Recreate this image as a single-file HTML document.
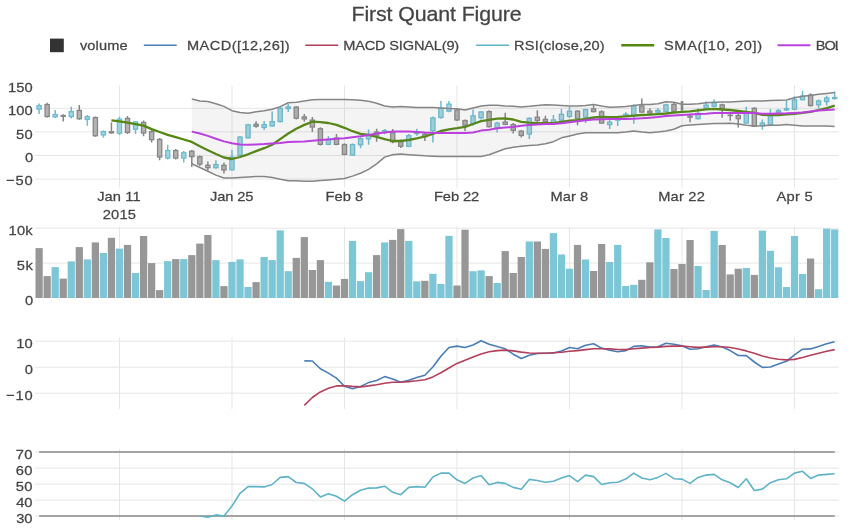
<!DOCTYPE html>
<html><head><meta charset="utf-8"><style>
html,body{margin:0;padding:0;background:#fff;overflow:hidden}
svg{display:block;filter:blur(0.35px)}
text{font-family:"Liberation Sans",sans-serif;fill:#444444;stroke:#444;stroke-width:0.25px}
</style></head><body>
<svg width="852" height="528" viewBox="0 0 852 528">
<defs><clipPath id="legclip"><rect x="0" y="0" width="837.9" height="528"/></clipPath></defs>
<rect x="0" y="0" width="852" height="528" fill="#fff"/>
<path d="M119.48 85.2 V187.5 M231.98 85.2 V187.5 M344.49 85.2 V187.5 M456.99 85.2 V187.5 M569.49 85.2 V187.5 M682 85.2 V187.5 M794.5 85.2 V187.5 M35.1 108.3 H838.7 M35.1 131.9 H838.7 M35.1 155.5 H838.7 M35.1 179.1 H838.7 M119.48 226.5 V298 M231.98 226.5 V298 M344.49 226.5 V298 M456.99 226.5 V298 M569.49 226.5 V298 M682 226.5 V298 M794.5 226.5 V298 M35.1 228.2 H838.7 M35.1 263.1 H838.7 M119.48 337.5 V409 M231.98 337.5 V409 M344.49 337.5 V409 M456.99 337.5 V409 M569.49 337.5 V409 M682 337.5 V409 M794.5 337.5 V409 M35.1 341.2 H838.7 M35.1 367.2 H838.7 M35.1 393.2 H838.7 M119.48 449 V520 M231.98 449 V520 M344.49 449 V520 M456.99 449 V520 M569.49 449 V520 M682 449 V520 M794.5 449 V520 M35.1 452 H838.7 M35.1 468.2 H838.7 M35.1 484.2 H838.7 M35.1 500.2 H838.7 M35.1 516 H838.7" stroke="#e6e6e6" stroke-width="1" fill="none"/>
<rect x="35.5" y="248.1" width="7.24" height="49.9" fill="#979797"/>
<rect x="43.54" y="276.1" width="7.24" height="21.9" fill="#979797"/>
<rect x="51.57" y="267.1" width="7.24" height="30.9" fill="#7cc6d6"/>
<rect x="59.61" y="278.6" width="7.24" height="19.4" fill="#979797"/>
<rect x="67.64" y="261.4" width="7.24" height="36.6" fill="#7cc6d6"/>
<rect x="75.68" y="247.1" width="7.24" height="50.9" fill="#979797"/>
<rect x="83.72" y="259.4" width="7.24" height="38.6" fill="#7cc6d6"/>
<rect x="91.75" y="242.4" width="7.24" height="55.6" fill="#979797"/>
<rect x="99.79" y="253" width="7.24" height="45" fill="#7cc6d6"/>
<rect x="107.82" y="237.8" width="7.24" height="60.2" fill="#979797"/>
<rect x="115.86" y="248.6" width="7.24" height="49.4" fill="#7cc6d6"/>
<rect x="123.9" y="244.9" width="7.24" height="53.1" fill="#979797"/>
<rect x="131.93" y="273" width="7.24" height="25" fill="#7cc6d6"/>
<rect x="139.97" y="236" width="7.24" height="62" fill="#979797"/>
<rect x="148" y="263.1" width="7.24" height="34.9" fill="#979797"/>
<rect x="156.04" y="290.1" width="7.24" height="7.9" fill="#979797"/>
<rect x="164.08" y="261.1" width="7.24" height="36.9" fill="#7cc6d6"/>
<rect x="172.11" y="259.1" width="7.24" height="38.9" fill="#979797"/>
<rect x="180.15" y="259.1" width="7.24" height="38.9" fill="#7cc6d6"/>
<rect x="188.18" y="255.1" width="7.24" height="42.9" fill="#979797"/>
<rect x="196.22" y="243.6" width="7.24" height="54.4" fill="#979797"/>
<rect x="204.26" y="235" width="7.24" height="63" fill="#979797"/>
<rect x="212.29" y="260.1" width="7.24" height="37.9" fill="#7cc6d6"/>
<rect x="220.33" y="286.1" width="7.24" height="11.9" fill="#979797"/>
<rect x="228.36" y="261.9" width="7.24" height="36.1" fill="#7cc6d6"/>
<rect x="236.4" y="259.4" width="7.24" height="38.6" fill="#7cc6d6"/>
<rect x="244.44" y="287" width="7.24" height="11" fill="#7cc6d6"/>
<rect x="252.47" y="282.1" width="7.24" height="15.9" fill="#979797"/>
<rect x="260.51" y="257" width="7.24" height="41" fill="#7cc6d6"/>
<rect x="268.54" y="260.1" width="7.24" height="37.9" fill="#7cc6d6"/>
<rect x="276.58" y="230.4" width="7.24" height="67.6" fill="#7cc6d6"/>
<rect x="284.62" y="271.2" width="7.24" height="26.8" fill="#7cc6d6"/>
<rect x="292.65" y="257.9" width="7.24" height="40.1" fill="#979797"/>
<rect x="300.69" y="237.1" width="7.24" height="60.9" fill="#979797"/>
<rect x="308.72" y="270" width="7.24" height="28" fill="#979797"/>
<rect x="316.76" y="260.1" width="7.24" height="37.9" fill="#979797"/>
<rect x="324.8" y="281.8" width="7.24" height="16.2" fill="#7cc6d6"/>
<rect x="332.83" y="285.5" width="7.24" height="12.5" fill="#979797"/>
<rect x="340.87" y="278.9" width="7.24" height="19.1" fill="#979797"/>
<rect x="348.9" y="240.9" width="7.24" height="57.1" fill="#7cc6d6"/>
<rect x="356.94" y="281.1" width="7.24" height="16.9" fill="#7cc6d6"/>
<rect x="364.98" y="272.2" width="7.24" height="25.8" fill="#7cc6d6"/>
<rect x="373.01" y="255.1" width="7.24" height="42.9" fill="#979797"/>
<rect x="381.05" y="242.4" width="7.24" height="55.6" fill="#7cc6d6"/>
<rect x="389.08" y="239.9" width="7.24" height="58.1" fill="#979797"/>
<rect x="397.12" y="229.1" width="7.24" height="68.9" fill="#979797"/>
<rect x="405.16" y="240.9" width="7.24" height="57.1" fill="#7cc6d6"/>
<rect x="413.19" y="281.4" width="7.24" height="16.6" fill="#7cc6d6"/>
<rect x="421.23" y="280.8" width="7.24" height="17.2" fill="#979797"/>
<rect x="429.26" y="273.8" width="7.24" height="24.2" fill="#7cc6d6"/>
<rect x="437.3" y="284" width="7.24" height="14" fill="#7cc6d6"/>
<rect x="445.34" y="235.9" width="7.24" height="62.1" fill="#7cc6d6"/>
<rect x="453.37" y="285.5" width="7.24" height="12.5" fill="#979797"/>
<rect x="461.41" y="229.7" width="7.24" height="68.3" fill="#979797"/>
<rect x="469.44" y="271.2" width="7.24" height="26.8" fill="#7cc6d6"/>
<rect x="477.48" y="270.4" width="7.24" height="27.6" fill="#7cc6d6"/>
<rect x="485.52" y="276.1" width="7.24" height="21.9" fill="#979797"/>
<rect x="493.55" y="283" width="7.24" height="15" fill="#7cc6d6"/>
<rect x="501.59" y="251.1" width="7.24" height="46.9" fill="#979797"/>
<rect x="509.62" y="273" width="7.24" height="25" fill="#979797"/>
<rect x="517.66" y="257" width="7.24" height="41" fill="#979797"/>
<rect x="525.7" y="241.5" width="7.24" height="56.5" fill="#7cc6d6"/>
<rect x="533.73" y="241.5" width="7.24" height="56.5" fill="#979797"/>
<rect x="541.77" y="248.9" width="7.24" height="49.1" fill="#979797"/>
<rect x="549.8" y="233.1" width="7.24" height="64.9" fill="#7cc6d6"/>
<rect x="557.84" y="254.5" width="7.24" height="43.5" fill="#7cc6d6"/>
<rect x="565.88" y="268.7" width="7.24" height="29.3" fill="#7cc6d6"/>
<rect x="573.91" y="244.9" width="7.24" height="53.1" fill="#979797"/>
<rect x="581.95" y="259.5" width="7.24" height="38.5" fill="#7cc6d6"/>
<rect x="589.98" y="271" width="7.24" height="27" fill="#979797"/>
<rect x="598.02" y="244" width="7.24" height="54" fill="#979797"/>
<rect x="606.06" y="262" width="7.24" height="36" fill="#7cc6d6"/>
<rect x="614.09" y="244.9" width="7.24" height="53.1" fill="#7cc6d6"/>
<rect x="622.13" y="286" width="7.24" height="12" fill="#7cc6d6"/>
<rect x="630.16" y="284.8" width="7.24" height="13.2" fill="#7cc6d6"/>
<rect x="638.2" y="279.8" width="7.24" height="18.2" fill="#979797"/>
<rect x="646.24" y="262.3" width="7.24" height="35.7" fill="#979797"/>
<rect x="654.27" y="229.4" width="7.24" height="68.6" fill="#7cc6d6"/>
<rect x="662.31" y="238" width="7.24" height="60" fill="#7cc6d6"/>
<rect x="670.34" y="269" width="7.24" height="29" fill="#979797"/>
<rect x="678.38" y="264" width="7.24" height="34" fill="#979797"/>
<rect x="686.42" y="240" width="7.24" height="58" fill="#979797"/>
<rect x="694.45" y="266" width="7.24" height="32" fill="#7cc6d6"/>
<rect x="702.49" y="290" width="7.24" height="8" fill="#7cc6d6"/>
<rect x="710.52" y="230.9" width="7.24" height="67.1" fill="#7cc6d6"/>
<rect x="718.56" y="245" width="7.24" height="53" fill="#979797"/>
<rect x="726.6" y="274.4" width="7.24" height="23.6" fill="#979797"/>
<rect x="734.63" y="268.7" width="7.24" height="29.3" fill="#979797"/>
<rect x="742.67" y="268" width="7.24" height="30" fill="#7cc6d6"/>
<rect x="750.7" y="274.9" width="7.24" height="23.1" fill="#979797"/>
<rect x="758.74" y="230.6" width="7.24" height="67.4" fill="#7cc6d6"/>
<rect x="766.78" y="250.8" width="7.24" height="47.2" fill="#7cc6d6"/>
<rect x="774.81" y="267.3" width="7.24" height="30.7" fill="#7cc6d6"/>
<rect x="782.85" y="287" width="7.24" height="11" fill="#7cc6d6"/>
<rect x="790.88" y="236" width="7.24" height="62" fill="#7cc6d6"/>
<rect x="798.92" y="274" width="7.24" height="24" fill="#7cc6d6"/>
<rect x="806.96" y="258.5" width="7.24" height="39.5" fill="#979797"/>
<rect x="814.99" y="289.2" width="7.24" height="8.8" fill="#7cc6d6"/>
<rect x="823.03" y="228.6" width="7.24" height="69.4" fill="#7cc6d6"/>
<rect x="831.06" y="229.4" width="7.24" height="68.6" fill="#7cc6d6"/>
<path d="M39.12 103.6 V105.5 M39.12 109.3 V113.9" stroke="#6cbcd0" stroke-width="1.5"/>
<rect x="37.02" y="105.65" width="4.2" height="3.5" fill="#6cbcd0" fill-opacity="0.62" stroke="#6cbcd0" stroke-width="1.3"/>
<path d="M47.15 102.7 V104.4 M47.15 116.7 V117.5" stroke="#868686" stroke-width="1.5"/>
<rect x="45.05" y="104.55" width="4.2" height="12" fill="#868686" fill-opacity="0.62" stroke="#868686" stroke-width="1.3"/>
<path d="M55.19 110.1 V114.4 M55.19 117 V117.9" stroke="#6cbcd0" stroke-width="1.5"/>
<rect x="53.09" y="114.55" width="4.2" height="2.3" fill="#6cbcd0" fill-opacity="0.62" stroke="#6cbcd0" stroke-width="1.3"/>
<path d="M63.23 114.2 V115.4 M63.23 116.4 V121.6" stroke="#868686" stroke-width="1.5"/>
<rect x="61.13" y="115.55" width="4.2" height="0.7" fill="#868686" fill-opacity="0.62" stroke="#868686" stroke-width="1.3"/>
<path d="M71.26 106.8 V111.5 M71.26 116.7 V118.6" stroke="#6cbcd0" stroke-width="1.5"/>
<rect x="69.16" y="111.65" width="4.2" height="4.9" fill="#6cbcd0" fill-opacity="0.62" stroke="#6cbcd0" stroke-width="1.3"/>
<path d="M79.3 105 V110.3 M79.3 118.9 V119.8" stroke="#868686" stroke-width="1.5"/>
<rect x="77.2" y="110.45" width="4.2" height="8.3" fill="#868686" fill-opacity="0.62" stroke="#868686" stroke-width="1.3"/>
<path d="M87.33 114.9 V116.5 M87.33 119.6 V125.7" stroke="#6cbcd0" stroke-width="1.5"/>
<rect x="85.23" y="116.65" width="4.2" height="2.8" fill="#6cbcd0" fill-opacity="0.62" stroke="#6cbcd0" stroke-width="1.3"/>
<path d="M95.37 116.4 V117.4 M95.37 135.9 V136.7" stroke="#868686" stroke-width="1.5"/>
<rect x="93.27" y="117.55" width="4.2" height="18.2" fill="#868686" fill-opacity="0.62" stroke="#868686" stroke-width="1.3"/>
<path d="M103.41 130.5 V131.4 M103.41 135.1 V137.8" stroke="#6cbcd0" stroke-width="1.5"/>
<rect x="101.31" y="131.55" width="4.2" height="3.4" fill="#6cbcd0" fill-opacity="0.62" stroke="#6cbcd0" stroke-width="1.3"/>
<path d="M111.44 122.5 V131.6 M111.44 133 V133.7" stroke="#868686" stroke-width="1.5"/>
<rect x="109.34" y="131.75" width="4.2" height="1.1" fill="#868686" fill-opacity="0.62" stroke="#868686" stroke-width="1.3"/>
<path d="M119.48 116.8 V119 M119.48 133.3 V134.9" stroke="#6cbcd0" stroke-width="1.5"/>
<rect x="117.38" y="119.15" width="4.2" height="14" fill="#6cbcd0" fill-opacity="0.62" stroke="#6cbcd0" stroke-width="1.3"/>
<path d="M127.51 116 V118.3 M127.51 132.6 V134.1" stroke="#868686" stroke-width="1.5"/>
<rect x="125.41" y="118.45" width="4.2" height="14" fill="#868686" fill-opacity="0.62" stroke="#868686" stroke-width="1.3"/>
<path d="M135.55 121 V121.8 M135.55 129.3 V134.1" stroke="#6cbcd0" stroke-width="1.5"/>
<rect x="133.45" y="121.95" width="4.2" height="7.2" fill="#6cbcd0" fill-opacity="0.62" stroke="#6cbcd0" stroke-width="1.3"/>
<path d="M143.59 120.6 V122.3 M143.59 133.1 V136.3" stroke="#868686" stroke-width="1.5"/>
<rect x="141.49" y="122.45" width="4.2" height="10.5" fill="#868686" fill-opacity="0.62" stroke="#868686" stroke-width="1.3"/>
<path d="M151.62 128.8 V131.5 M151.62 139.8 V142.5" stroke="#868686" stroke-width="1.5"/>
<rect x="149.52" y="131.65" width="4.2" height="8" fill="#868686" fill-opacity="0.62" stroke="#868686" stroke-width="1.3"/>
<path d="M159.66 138.1 V139.3 M159.66 157.1 V160.2" stroke="#868686" stroke-width="1.5"/>
<rect x="157.56" y="139.45" width="4.2" height="17.5" fill="#868686" fill-opacity="0.62" stroke="#868686" stroke-width="1.3"/>
<path d="M167.69 144.7 V150.4 M167.69 158.2 V159.5" stroke="#6cbcd0" stroke-width="1.5"/>
<rect x="165.59" y="150.55" width="4.2" height="7.5" fill="#6cbcd0" fill-opacity="0.62" stroke="#6cbcd0" stroke-width="1.3"/>
<path d="M175.73 149.1 V150.4 M175.73 158.2 V159.5" stroke="#868686" stroke-width="1.5"/>
<rect x="173.63" y="150.55" width="4.2" height="7.5" fill="#868686" fill-opacity="0.62" stroke="#868686" stroke-width="1.3"/>
<path d="M183.77 151.1 V152.6 M183.77 158.2 V162.4" stroke="#6cbcd0" stroke-width="1.5"/>
<rect x="181.67" y="152.75" width="4.2" height="5.3" fill="#6cbcd0" fill-opacity="0.62" stroke="#6cbcd0" stroke-width="1.3"/>
<path d="M191.8 149.9 V151.1 M191.8 156.8 V166.9" stroke="#868686" stroke-width="1.5"/>
<rect x="189.7" y="151.25" width="4.2" height="5.4" fill="#868686" fill-opacity="0.62" stroke="#868686" stroke-width="1.3"/>
<path d="M199.84 155.5 V156.6 M199.84 164.2 V166.1" stroke="#868686" stroke-width="1.5"/>
<rect x="197.74" y="156.75" width="4.2" height="7.3" fill="#868686" fill-opacity="0.62" stroke="#868686" stroke-width="1.3"/>
<path d="M207.87 161.4 V165.2 M207.87 167.8 V170.6" stroke="#868686" stroke-width="1.5"/>
<rect x="205.77" y="165.35" width="4.2" height="2.3" fill="#868686" fill-opacity="0.62" stroke="#868686" stroke-width="1.3"/>
<path d="M215.91 160.2 V164.4 M215.91 167.8 V168.8" stroke="#6cbcd0" stroke-width="1.5"/>
<rect x="213.81" y="164.55" width="4.2" height="3.1" fill="#6cbcd0" fill-opacity="0.62" stroke="#6cbcd0" stroke-width="1.3"/>
<path d="M223.95 162.4 V165.2 M223.95 170.1 V173.5" stroke="#868686" stroke-width="1.5"/>
<rect x="221.85" y="165.35" width="4.2" height="4.6" fill="#868686" fill-opacity="0.62" stroke="#868686" stroke-width="1.3"/>
<path d="M231.98 149.9 V157 M231.98 169.9 V170.6" stroke="#6cbcd0" stroke-width="1.5"/>
<rect x="229.88" y="157.15" width="4.2" height="12.6" fill="#6cbcd0" fill-opacity="0.62" stroke="#6cbcd0" stroke-width="1.3"/>
<path d="M240.02 136 V136.9 M240.02 155.5 V156.3" stroke="#6cbcd0" stroke-width="1.5"/>
<rect x="237.92" y="137.05" width="4.2" height="18.3" fill="#6cbcd0" fill-opacity="0.62" stroke="#6cbcd0" stroke-width="1.3"/>
<path d="M248.05 123.7 V124.7 M248.05 137.9 V138.7" stroke="#6cbcd0" stroke-width="1.5"/>
<rect x="245.95" y="124.85" width="4.2" height="12.9" fill="#6cbcd0" fill-opacity="0.62" stroke="#6cbcd0" stroke-width="1.3"/>
<path d="M256.09 121.3 V124.2 M256.09 126.4 V127.7" stroke="#868686" stroke-width="1.5"/>
<rect x="253.99" y="124.35" width="4.2" height="1.9" fill="#868686" fill-opacity="0.62" stroke="#868686" stroke-width="1.3"/>
<path d="M264.13 121 V124.5 M264.13 127.6 V129.9" stroke="#6cbcd0" stroke-width="1.5"/>
<rect x="262.03" y="124.65" width="4.2" height="2.8" fill="#6cbcd0" fill-opacity="0.62" stroke="#6cbcd0" stroke-width="1.3"/>
<path d="M272.16 111.4 V121.5 M272.16 126.1 V126.8" stroke="#6cbcd0" stroke-width="1.5"/>
<rect x="270.06" y="121.65" width="4.2" height="4.3" fill="#6cbcd0" fill-opacity="0.62" stroke="#6cbcd0" stroke-width="1.3"/>
<path d="M280.2 107 V108.2 M280.2 121.7 V122.5" stroke="#6cbcd0" stroke-width="1.5"/>
<rect x="278.1" y="108.35" width="4.2" height="13.2" fill="#6cbcd0" fill-opacity="0.62" stroke="#6cbcd0" stroke-width="1.3"/>
<path d="M288.23 104 V106.7 M288.23 108.7 V111.9" stroke="#6cbcd0" stroke-width="1.5"/>
<rect x="286.13" y="106.85" width="4.2" height="1.7" fill="#6cbcd0" fill-opacity="0.62" stroke="#6cbcd0" stroke-width="1.3"/>
<path d="M296.27 106 V107 M296.27 118.3 V119.5" stroke="#868686" stroke-width="1.5"/>
<rect x="294.17" y="107.15" width="4.2" height="11" fill="#868686" fill-opacity="0.62" stroke="#868686" stroke-width="1.3"/>
<path d="M304.31 113.9 V116.8 M304.31 119 V121.8" stroke="#868686" stroke-width="1.5"/>
<rect x="302.21" y="116.95" width="4.2" height="1.9" fill="#868686" fill-opacity="0.62" stroke="#868686" stroke-width="1.3"/>
<path d="M312.34 116.9 V120 M312.34 127.2 V132.1" stroke="#868686" stroke-width="1.5"/>
<rect x="310.24" y="120.15" width="4.2" height="6.9" fill="#868686" fill-opacity="0.62" stroke="#868686" stroke-width="1.3"/>
<path d="M320.38 127.2 V128.6 M320.38 144.5 V145.4" stroke="#868686" stroke-width="1.5"/>
<rect x="318.28" y="128.75" width="4.2" height="15.6" fill="#868686" fill-opacity="0.62" stroke="#868686" stroke-width="1.3"/>
<path d="M328.41 136.1 V139.2 M328.41 144.5 V145.3" stroke="#6cbcd0" stroke-width="1.5"/>
<rect x="326.31" y="139.35" width="4.2" height="5" fill="#6cbcd0" fill-opacity="0.62" stroke="#6cbcd0" stroke-width="1.3"/>
<path d="M336.45 134 V137.8 M336.45 144.5 V145.3" stroke="#868686" stroke-width="1.5"/>
<rect x="334.35" y="137.95" width="4.2" height="6.4" fill="#868686" fill-opacity="0.62" stroke="#868686" stroke-width="1.3"/>
<path d="M344.49 143.5 V144.4 M344.49 154.5 V155.3" stroke="#868686" stroke-width="1.5"/>
<rect x="342.39" y="144.55" width="4.2" height="9.8" fill="#868686" fill-opacity="0.62" stroke="#868686" stroke-width="1.3"/>
<path d="M352.52 143.5 V144.4 M352.52 155.2 V156" stroke="#6cbcd0" stroke-width="1.5"/>
<rect x="350.42" y="144.55" width="4.2" height="10.5" fill="#6cbcd0" fill-opacity="0.62" stroke="#6cbcd0" stroke-width="1.3"/>
<path d="M360.56 137.3 V138.5 M360.56 144.9 V148.3" stroke="#6cbcd0" stroke-width="1.5"/>
<rect x="358.46" y="138.65" width="4.2" height="6.1" fill="#6cbcd0" fill-opacity="0.62" stroke="#6cbcd0" stroke-width="1.3"/>
<path d="M368.59 129.6 V134.8 M368.59 139 V144.7" stroke="#6cbcd0" stroke-width="1.5"/>
<rect x="366.49" y="134.95" width="4.2" height="3.9" fill="#6cbcd0" fill-opacity="0.62" stroke="#6cbcd0" stroke-width="1.3"/>
<path d="M376.63 128.7 V131.9 M376.63 135.3 V141.7" stroke="#868686" stroke-width="1.5"/>
<rect x="374.53" y="132.05" width="4.2" height="3.1" fill="#868686" fill-opacity="0.62" stroke="#868686" stroke-width="1.3"/>
<path d="M384.67 129.1 V130.4 M384.67 132.3 V134.3" stroke="#6cbcd0" stroke-width="1.5"/>
<rect x="382.57" y="130.55" width="4.2" height="1.6" fill="#6cbcd0" fill-opacity="0.62" stroke="#6cbcd0" stroke-width="1.3"/>
<path d="M392.7 129.1 V132.6 M392.7 141.9 V143.2" stroke="#868686" stroke-width="1.5"/>
<rect x="390.6" y="132.75" width="4.2" height="9" fill="#868686" fill-opacity="0.62" stroke="#868686" stroke-width="1.3"/>
<path d="M400.74 139.5 V141.5 M400.74 146.4 V147.9" stroke="#868686" stroke-width="1.5"/>
<rect x="398.64" y="141.65" width="4.2" height="4.6" fill="#868686" fill-opacity="0.62" stroke="#868686" stroke-width="1.3"/>
<path d="M408.77 134 V135.5 M408.77 146.4 V147.2" stroke="#6cbcd0" stroke-width="1.5"/>
<rect x="406.67" y="135.65" width="4.2" height="10.6" fill="#6cbcd0" fill-opacity="0.62" stroke="#6cbcd0" stroke-width="1.3"/>
<path d="M416.81 128.7 V131.9 M416.81 133.8 V135.8" stroke="#6cbcd0" stroke-width="1.5"/>
<rect x="414.71" y="132.05" width="4.2" height="1.6" fill="#6cbcd0" fill-opacity="0.62" stroke="#6cbcd0" stroke-width="1.3"/>
<path d="M424.85 132.8 V134.1 M424.85 136.8 V141" stroke="#868686" stroke-width="1.5"/>
<rect x="422.75" y="134.25" width="4.2" height="2.4" fill="#868686" fill-opacity="0.62" stroke="#868686" stroke-width="1.3"/>
<path d="M432.88 116.6 V117.8 M432.88 130.9 V142.4" stroke="#6cbcd0" stroke-width="1.5"/>
<rect x="430.78" y="117.95" width="4.2" height="12.8" fill="#6cbcd0" fill-opacity="0.62" stroke="#6cbcd0" stroke-width="1.3"/>
<path d="M440.92 101.1 V108.2 M440.92 117.6 V118.8" stroke="#6cbcd0" stroke-width="1.5"/>
<rect x="438.82" y="108.35" width="4.2" height="9.1" fill="#6cbcd0" fill-opacity="0.62" stroke="#6cbcd0" stroke-width="1.3"/>
<path d="M448.95 101 V104 M448.95 111.3 V112.2" stroke="#6cbcd0" stroke-width="1.5"/>
<rect x="446.85" y="104.15" width="4.2" height="7" fill="#6cbcd0" fill-opacity="0.62" stroke="#6cbcd0" stroke-width="1.3"/>
<path d="M456.99 108.8 V110 M456.99 120.1 V120.9" stroke="#868686" stroke-width="1.5"/>
<rect x="454.89" y="110.15" width="4.2" height="9.8" fill="#868686" fill-opacity="0.62" stroke="#868686" stroke-width="1.3"/>
<path d="M465.03 119.6 V120.4 M465.03 125.3 V131" stroke="#868686" stroke-width="1.5"/>
<rect x="462.93" y="120.55" width="4.2" height="4.6" fill="#868686" fill-opacity="0.62" stroke="#868686" stroke-width="1.3"/>
<path d="M473.06 109.5 V115.7 M473.06 123.8 V125.8" stroke="#6cbcd0" stroke-width="1.5"/>
<rect x="470.96" y="115.85" width="4.2" height="7.8" fill="#6cbcd0" fill-opacity="0.62" stroke="#6cbcd0" stroke-width="1.3"/>
<path d="M481.1 111 V111.8 M481.1 117.9 V119.6" stroke="#6cbcd0" stroke-width="1.5"/>
<rect x="479" y="111.95" width="4.2" height="5.8" fill="#6cbcd0" fill-opacity="0.62" stroke="#6cbcd0" stroke-width="1.3"/>
<path d="M489.13 110.3 V111.5 M489.13 126.8 V127.6" stroke="#868686" stroke-width="1.5"/>
<rect x="487.03" y="111.65" width="4.2" height="15" fill="#868686" fill-opacity="0.62" stroke="#868686" stroke-width="1.3"/>
<path d="M497.17 121.7 V123 M497.17 128.2 V132.4" stroke="#6cbcd0" stroke-width="1.5"/>
<rect x="495.07" y="123.15" width="4.2" height="4.9" fill="#6cbcd0" fill-opacity="0.62" stroke="#6cbcd0" stroke-width="1.3"/>
<path d="M505.21 112.8 V121.9 M505.21 124.5 V125.3" stroke="#868686" stroke-width="1.5"/>
<rect x="503.11" y="122.05" width="4.2" height="2.3" fill="#868686" fill-opacity="0.62" stroke="#868686" stroke-width="1.3"/>
<path d="M513.24 123.1 V124.5 M513.24 130.5 V133.5" stroke="#868686" stroke-width="1.5"/>
<rect x="511.14" y="124.65" width="4.2" height="5.7" fill="#868686" fill-opacity="0.62" stroke="#868686" stroke-width="1.3"/>
<path d="M521.28 129.9 V131 M521.28 135.6 V137.6" stroke="#868686" stroke-width="1.5"/>
<rect x="519.18" y="131.15" width="4.2" height="4.3" fill="#868686" fill-opacity="0.62" stroke="#868686" stroke-width="1.3"/>
<path d="M529.31 117.2 V118.2 M529.31 134.2 V139.1" stroke="#6cbcd0" stroke-width="1.5"/>
<rect x="527.21" y="118.35" width="4.2" height="15.7" fill="#6cbcd0" fill-opacity="0.62" stroke="#6cbcd0" stroke-width="1.3"/>
<path d="M537.35 110.3 V117.1 M537.35 120.6 V122.1" stroke="#868686" stroke-width="1.5"/>
<rect x="535.25" y="117.25" width="4.2" height="3.2" fill="#868686" fill-opacity="0.62" stroke="#868686" stroke-width="1.3"/>
<path d="M545.39 115.7 V119.2 M545.39 121.6 V124" stroke="#868686" stroke-width="1.5"/>
<rect x="543.29" y="119.35" width="4.2" height="2.1" fill="#868686" fill-opacity="0.62" stroke="#868686" stroke-width="1.3"/>
<path d="M553.42 115 V119.8 M553.42 123.2 V124" stroke="#6cbcd0" stroke-width="1.5"/>
<rect x="551.32" y="119.95" width="4.2" height="3.1" fill="#6cbcd0" fill-opacity="0.62" stroke="#6cbcd0" stroke-width="1.3"/>
<path d="M561.46 108.7 V114.2 M561.46 120.3 V121" stroke="#6cbcd0" stroke-width="1.5"/>
<rect x="559.36" y="114.35" width="4.2" height="5.8" fill="#6cbcd0" fill-opacity="0.62" stroke="#6cbcd0" stroke-width="1.3"/>
<path d="M569.49 106.8 V111 M569.49 116.6 V117.8" stroke="#6cbcd0" stroke-width="1.5"/>
<rect x="567.39" y="111.15" width="4.2" height="5.3" fill="#6cbcd0" fill-opacity="0.62" stroke="#6cbcd0" stroke-width="1.3"/>
<path d="M577.53 110.2 V111 M577.53 118.8 V125.2" stroke="#868686" stroke-width="1.5"/>
<rect x="575.43" y="111.15" width="4.2" height="7.5" fill="#868686" fill-opacity="0.62" stroke="#868686" stroke-width="1.3"/>
<path d="M585.57 108.7 V109.5 M585.57 117.3 V123" stroke="#6cbcd0" stroke-width="1.5"/>
<rect x="583.47" y="109.65" width="4.2" height="7.5" fill="#6cbcd0" fill-opacity="0.62" stroke="#6cbcd0" stroke-width="1.3"/>
<path d="M593.6 105.3 V108.7 M593.6 111.7 V112.6" stroke="#868686" stroke-width="1.5"/>
<rect x="591.5" y="108.85" width="4.2" height="2.7" fill="#868686" fill-opacity="0.62" stroke="#868686" stroke-width="1.3"/>
<path d="M601.64 110.2 V111.7 M601.64 123.2 V124" stroke="#868686" stroke-width="1.5"/>
<rect x="599.54" y="111.85" width="4.2" height="11.2" fill="#868686" fill-opacity="0.62" stroke="#868686" stroke-width="1.3"/>
<path d="M609.67 119.3 V122 M609.67 124.7 V128.9" stroke="#6cbcd0" stroke-width="1.5"/>
<rect x="607.57" y="122.15" width="4.2" height="2.4" fill="#6cbcd0" fill-opacity="0.62" stroke="#6cbcd0" stroke-width="1.3"/>
<path d="M617.71 117.8 V119.1 M617.71 120.3 V126" stroke="#6cbcd0" stroke-width="1.5"/>
<rect x="615.61" y="119.25" width="4.2" height="0.9" fill="#6cbcd0" fill-opacity="0.62" stroke="#6cbcd0" stroke-width="1.3"/>
<path d="M625.75 112.2 V114.2 M625.75 115.9 V116.8" stroke="#6cbcd0" stroke-width="1.5"/>
<rect x="623.65" y="114.35" width="4.2" height="1.4" fill="#6cbcd0" fill-opacity="0.62" stroke="#6cbcd0" stroke-width="1.3"/>
<path d="M633.78 104.2 V105.8 M633.78 115.9 V123.7" stroke="#6cbcd0" stroke-width="1.5"/>
<rect x="631.68" y="105.95" width="4.2" height="9.8" fill="#6cbcd0" fill-opacity="0.62" stroke="#6cbcd0" stroke-width="1.3"/>
<path d="M641.82 98.6 V105.8 M641.82 112.2 V113" stroke="#868686" stroke-width="1.5"/>
<rect x="639.72" y="105.95" width="4.2" height="6.1" fill="#868686" fill-opacity="0.62" stroke="#868686" stroke-width="1.3"/>
<path d="M649.85 108.2 V111 M649.85 113.2 V115.6" stroke="#868686" stroke-width="1.5"/>
<rect x="647.75" y="111.15" width="4.2" height="1.9" fill="#868686" fill-opacity="0.62" stroke="#868686" stroke-width="1.3"/>
<path d="M657.89 108 V110.2 M657.89 112.2 V113" stroke="#6cbcd0" stroke-width="1.5"/>
<rect x="655.79" y="110.35" width="4.2" height="1.7" fill="#6cbcd0" fill-opacity="0.62" stroke="#6cbcd0" stroke-width="1.3"/>
<path d="M665.93 103.8 V104.7 M665.93 111.4 V112.2" stroke="#6cbcd0" stroke-width="1.5"/>
<rect x="663.83" y="104.85" width="4.2" height="6.4" fill="#6cbcd0" fill-opacity="0.62" stroke="#6cbcd0" stroke-width="1.3"/>
<path d="M673.96 102.8 V104.3 M673.96 111.4 V112.2" stroke="#868686" stroke-width="1.5"/>
<rect x="671.86" y="104.45" width="4.2" height="6.8" fill="#868686" fill-opacity="0.62" stroke="#868686" stroke-width="1.3"/>
<path d="M682 101 V102 M682 109.9 V110.6" stroke="#868686" stroke-width="1.5"/>
<path d="M682 101 V110.6" stroke="#868686" stroke-width="2.6"/>
<path d="M690.03 114.9 V116.1 M690.03 117.3 V122.3" stroke="#868686" stroke-width="1.5"/>
<rect x="687.93" y="116.25" width="4.2" height="0.9" fill="#868686" fill-opacity="0.62" stroke="#868686" stroke-width="1.3"/>
<path d="M698.07 108.2 V113.2 M698.07 118.8 V119.6" stroke="#6cbcd0" stroke-width="1.5"/>
<rect x="695.97" y="113.35" width="4.2" height="5.3" fill="#6cbcd0" fill-opacity="0.62" stroke="#6cbcd0" stroke-width="1.3"/>
<path d="M706.11 101.3 V105 M706.11 108.2 V109" stroke="#6cbcd0" stroke-width="1.5"/>
<rect x="704.01" y="105.15" width="4.2" height="2.9" fill="#6cbcd0" fill-opacity="0.62" stroke="#6cbcd0" stroke-width="1.3"/>
<path d="M714.14 99.4 V102.8 M714.14 106.3 V107.2" stroke="#6cbcd0" stroke-width="1.5"/>
<rect x="712.04" y="102.95" width="4.2" height="3.2" fill="#6cbcd0" fill-opacity="0.62" stroke="#6cbcd0" stroke-width="1.3"/>
<path d="M722.18 103.8 V104.7 M722.18 108.5 V117.8" stroke="#868686" stroke-width="1.5"/>
<rect x="720.08" y="104.85" width="4.2" height="3.5" fill="#868686" fill-opacity="0.62" stroke="#868686" stroke-width="1.3"/>
<path d="M730.21 114.1 V115.1 M730.21 115.6 V120.8" stroke="#868686" stroke-width="1.5"/>
<rect x="728.11" y="115.25" width="4.2" height="0.3" fill="#868686" fill-opacity="0.62" stroke="#868686" stroke-width="1.3"/>
<path d="M738.25 114.1 V115.4 M738.25 118.8 V127.4" stroke="#868686" stroke-width="1.5"/>
<rect x="736.15" y="115.55" width="4.2" height="3.1" fill="#868686" fill-opacity="0.62" stroke="#868686" stroke-width="1.3"/>
<path d="M746.29 106.8 V111.7 M746.29 123.2 V124" stroke="#6cbcd0" stroke-width="1.5"/>
<rect x="744.19" y="111.85" width="4.2" height="11.2" fill="#6cbcd0" fill-opacity="0.62" stroke="#6cbcd0" stroke-width="1.3"/>
<path d="M754.32 107.2 V108.2 M754.32 126.3 V127" stroke="#868686" stroke-width="1.5"/>
<rect x="752.22" y="108.35" width="4.2" height="17.8" fill="#868686" fill-opacity="0.62" stroke="#868686" stroke-width="1.3"/>
<path d="M762.36 119.5 V122.9 M762.36 125.9 V129.8" stroke="#6cbcd0" stroke-width="1.5"/>
<rect x="760.26" y="123.05" width="4.2" height="2.7" fill="#6cbcd0" fill-opacity="0.62" stroke="#6cbcd0" stroke-width="1.3"/>
<path d="M770.39 109.1 V115.5 M770.39 124.9 V125.7" stroke="#6cbcd0" stroke-width="1.5"/>
<rect x="768.29" y="115.65" width="4.2" height="9.1" fill="#6cbcd0" fill-opacity="0.62" stroke="#6cbcd0" stroke-width="1.3"/>
<path d="M778.43 109.1 V110.4 M778.43 112.3 V114.3" stroke="#6cbcd0" stroke-width="1.5"/>
<rect x="776.33" y="110.55" width="4.2" height="1.6" fill="#6cbcd0" fill-opacity="0.62" stroke="#6cbcd0" stroke-width="1.3"/>
<path d="M786.47 101 V108.6 M786.47 110.1 V110.9" stroke="#6cbcd0" stroke-width="1.5"/>
<rect x="784.37" y="108.75" width="4.2" height="1.2" fill="#6cbcd0" fill-opacity="0.62" stroke="#6cbcd0" stroke-width="1.3"/>
<path d="M794.5 96.3 V99.7 M794.5 109.4 V110.2" stroke="#6cbcd0" stroke-width="1.5"/>
<rect x="792.4" y="99.85" width="4.2" height="9.4" fill="#6cbcd0" fill-opacity="0.62" stroke="#6cbcd0" stroke-width="1.3"/>
<path d="M802.54 90.7 V95.9 M802.54 99.8 V100.6" stroke="#6cbcd0" stroke-width="1.5"/>
<rect x="800.44" y="96.05" width="4.2" height="3.6" fill="#6cbcd0" fill-opacity="0.62" stroke="#6cbcd0" stroke-width="1.3"/>
<path d="M810.57 93.3 V94.9 M810.57 105.7 V106.5" stroke="#868686" stroke-width="1.5"/>
<rect x="808.47" y="95.05" width="4.2" height="10.5" fill="#868686" fill-opacity="0.62" stroke="#868686" stroke-width="1.3"/>
<path d="M818.61 99.5 V100.8 M818.61 105 V108.4" stroke="#6cbcd0" stroke-width="1.5"/>
<rect x="816.51" y="100.95" width="4.2" height="3.9" fill="#6cbcd0" fill-opacity="0.62" stroke="#6cbcd0" stroke-width="1.3"/>
<path d="M826.65 95.8 V97.8 M826.65 101.7 V105.5" stroke="#6cbcd0" stroke-width="1.5"/>
<rect x="824.55" y="97.95" width="4.2" height="3.6" fill="#6cbcd0" fill-opacity="0.62" stroke="#6cbcd0" stroke-width="1.3"/>
<path d="M834.68 91.4 V97.4 M834.68 98.7 V99.5" stroke="#6cbcd0" stroke-width="1.5"/>
<rect x="832.58" y="97.55" width="4.2" height="1" fill="#6cbcd0" fill-opacity="0.62" stroke="#6cbcd0" stroke-width="1.3"/>
<path d="M111.44 120.3 L119.48 121.3 L127.51 122.7 L135.55 124.2 L143.59 125.6 L151.62 129.1 L159.66 132 L167.69 134.8 L175.73 137.2 L183.77 139.5 L191.8 141.9 L199.84 146.2 L207.87 150.2 L215.91 154 L223.95 157.5 L231.98 159 L240.02 157 L248.05 154.3 L256.09 151.1 L264.13 148.2 L272.16 144.8 L280.2 139.1 L288.23 133.5 L296.27 128.7 L304.31 124.9 L312.34 121.7 L320.38 122.1 L328.41 123 L336.45 124.9 L344.49 127.8 L352.52 131.2 L360.56 133.8 L368.59 135 L376.63 136.9 L384.67 139.1 L392.7 141 L400.74 141 L408.77 140 L416.81 138.4 L424.85 136.5 L432.88 134 L440.92 131 L448.95 129.3 L456.99 128.2 L465.03 126.8 L473.06 124 L481.1 121.1 L489.13 119.8 L497.17 118.7 L505.21 118.5 L513.24 119.5 L521.28 121.8 L529.31 122.6 L537.35 123.2 L545.39 123.2 L553.42 123.2 L561.46 122 L569.49 120.7 L577.53 120.2 L585.57 118.8 L593.6 117.5 L601.64 116.9 L609.67 117.2 L617.71 116.9 L625.75 116.4 L633.78 115.6 L641.82 115 L649.85 114.7 L657.89 114.1 L665.93 113.5 L673.96 112.6 L682 111.8 L690.03 111.3 L698.07 110.3 L706.11 109.4 L714.14 108.8 L722.18 109.5 L730.21 110 L738.25 111 L746.29 111.9 L754.32 112.9 L762.36 114.8 L770.39 115.2 L778.43 115.2 L786.47 114.4 L794.5 113.8 L802.54 112.9 L810.57 111.9 L818.61 110 L826.65 108.1 L834.68 105.7" fill="none" stroke="#548710" stroke-width="2.3" stroke-linejoin="round"/>
<path d="M191.8 99 L199.84 100.9 L207.87 101.6 L215.91 103.7 L223.95 106.4 L231.98 110.7 L240.02 112.6 L248.05 113.2 L256.09 111.7 L264.13 110.7 L272.16 109.2 L280.2 106.6 L288.23 102.8 L296.27 102.2 L304.31 100.9 L312.34 99.7 L320.38 99.4 L328.41 99.4 L336.45 99.4 L344.49 99.4 L352.52 99.7 L360.56 100.3 L368.59 101.3 L376.63 103.2 L384.67 106 L392.7 106.9 L400.74 106.5 L408.77 106.9 L416.81 107.5 L424.85 107.5 L432.88 107.5 L440.92 107.9 L448.95 108.5 L456.99 108.8 L465.03 110 L473.06 108 L481.1 106 L489.13 105.2 L497.17 105.2 L505.21 105.9 L513.24 106.3 L521.28 107 L529.31 106.3 L537.35 105.4 L545.39 104.8 L553.42 105 L561.46 105.6 L569.49 106.1 L577.53 105.9 L585.57 105.6 L593.6 104.6 L601.64 106.1 L609.67 107.2 L617.71 106.9 L625.75 106.5 L633.78 105.6 L641.82 104.6 L649.85 104.6 L657.89 103.7 L665.93 101.8 L673.96 102.3 L682 104.2 L690.03 104.2 L698.07 103.7 L706.11 102.7 L714.14 102.3 L722.18 102.1 L730.21 101.9 L738.25 101.5 L746.29 101.1 L754.32 100.9 L762.36 100.9 L770.39 100.6 L778.43 100.2 L786.47 100 L794.5 97.7 L802.54 96.2 L810.57 95.5 L818.61 94.3 L826.65 93.4 L834.68 92.4 L834.68 126.5 L826.65 126.1 L818.61 126.1 L810.57 126.1 L802.54 126.1 L794.5 125.2 L786.47 124.6 L778.43 125.2 L770.39 125.2 L762.36 125.8 L754.32 126.1 L746.29 125.2 L738.25 123.9 L730.21 123.3 L722.18 123.4 L714.14 123.6 L706.11 123.9 L698.07 124.5 L690.03 125.1 L682 125.8 L673.96 129.2 L665.93 131.1 L657.89 132.1 L649.85 132.7 L641.82 132.1 L633.78 131.1 L625.75 132.1 L617.71 132.7 L609.67 132.7 L601.64 132.7 L593.6 132.7 L585.57 132.7 L577.53 134 L569.49 135.9 L561.46 137.8 L553.42 141.7 L545.39 143.8 L537.35 145 L529.31 145.4 L521.28 146.2 L513.24 147.2 L505.21 148.8 L497.17 151.8 L489.13 154.8 L481.1 156.6 L473.06 156.6 L465.03 156.6 L456.99 156.6 L448.95 156.6 L440.92 156.6 L432.88 156.2 L424.85 155.8 L416.81 155.2 L408.77 154.7 L400.74 154.1 L392.7 154.7 L384.67 157.1 L376.63 163.8 L368.59 169.4 L360.56 173.2 L352.52 176.1 L344.49 178.5 L336.45 179.3 L328.41 179.9 L320.38 180.4 L312.34 181.2 L304.31 181.2 L296.27 180.8 L288.23 180.8 L280.2 179.3 L272.16 177.4 L264.13 176.6 L256.09 176.6 L248.05 177 L240.02 177.4 L231.98 178 L223.95 178 L215.91 175.1 L207.87 171.3 L199.84 167.5 L191.8 163.8 Z" fill="rgba(128,128,128,0.09)" stroke="none"/>
<path d="M191.8 99 L199.84 100.9 L207.87 101.6 L215.91 103.7 L223.95 106.4 L231.98 110.7 L240.02 112.6 L248.05 113.2 L256.09 111.7 L264.13 110.7 L272.16 109.2 L280.2 106.6 L288.23 102.8 L296.27 102.2 L304.31 100.9 L312.34 99.7 L320.38 99.4 L328.41 99.4 L336.45 99.4 L344.49 99.4 L352.52 99.7 L360.56 100.3 L368.59 101.3 L376.63 103.2 L384.67 106 L392.7 106.9 L400.74 106.5 L408.77 106.9 L416.81 107.5 L424.85 107.5 L432.88 107.5 L440.92 107.9 L448.95 108.5 L456.99 108.8 L465.03 110 L473.06 108 L481.1 106 L489.13 105.2 L497.17 105.2 L505.21 105.9 L513.24 106.3 L521.28 107 L529.31 106.3 L537.35 105.4 L545.39 104.8 L553.42 105 L561.46 105.6 L569.49 106.1 L577.53 105.9 L585.57 105.6 L593.6 104.6 L601.64 106.1 L609.67 107.2 L617.71 106.9 L625.75 106.5 L633.78 105.6 L641.82 104.6 L649.85 104.6 L657.89 103.7 L665.93 101.8 L673.96 102.3 L682 104.2 L690.03 104.2 L698.07 103.7 L706.11 102.7 L714.14 102.3 L722.18 102.1 L730.21 101.9 L738.25 101.5 L746.29 101.1 L754.32 100.9 L762.36 100.9 L770.39 100.6 L778.43 100.2 L786.47 100 L794.5 97.7 L802.54 96.2 L810.57 95.5 L818.61 94.3 L826.65 93.4 L834.68 92.4" fill="none" stroke="#858585" stroke-width="1.5" stroke-linejoin="round"/>
<path d="M191.8 163.8 L199.84 167.5 L207.87 171.3 L215.91 175.1 L223.95 178 L231.98 178 L240.02 177.4 L248.05 177 L256.09 176.6 L264.13 176.6 L272.16 177.4 L280.2 179.3 L288.23 180.8 L296.27 180.8 L304.31 181.2 L312.34 181.2 L320.38 180.4 L328.41 179.9 L336.45 179.3 L344.49 178.5 L352.52 176.1 L360.56 173.2 L368.59 169.4 L376.63 163.8 L384.67 157.1 L392.7 154.7 L400.74 154.1 L408.77 154.7 L416.81 155.2 L424.85 155.8 L432.88 156.2 L440.92 156.6 L448.95 156.6 L456.99 156.6 L465.03 156.6 L473.06 156.6 L481.1 156.6 L489.13 154.8 L497.17 151.8 L505.21 148.8 L513.24 147.2 L521.28 146.2 L529.31 145.4 L537.35 145 L545.39 143.8 L553.42 141.7 L561.46 137.8 L569.49 135.9 L577.53 134 L585.57 132.7 L593.6 132.7 L601.64 132.7 L609.67 132.7 L617.71 132.7 L625.75 132.1 L633.78 131.1 L641.82 132.1 L649.85 132.7 L657.89 132.1 L665.93 131.1 L673.96 129.2 L682 125.8 L690.03 125.1 L698.07 124.5 L706.11 123.9 L714.14 123.6 L722.18 123.4 L730.21 123.3 L738.25 123.9 L746.29 125.2 L754.32 126.1 L762.36 125.8 L770.39 125.2 L778.43 125.2 L786.47 124.6 L794.5 125.2 L802.54 126.1 L810.57 126.1 L818.61 126.1 L826.65 126.1 L834.68 126.5" fill="none" stroke="#858585" stroke-width="1.5" stroke-linejoin="round"/>
<path d="M191.8 131.6 L199.84 133.5 L207.87 135.9 L215.91 138.8 L223.95 141.4 L231.98 143.3 L240.02 144.4 L248.05 144.8 L256.09 144.4 L264.13 144.1 L272.16 143.5 L280.2 142.9 L288.23 142 L296.27 141.7 L304.31 141.4 L312.34 140.7 L320.38 140.1 L328.41 139.5 L336.45 138.8 L344.49 138.2 L352.52 137.2 L360.56 136.3 L368.59 135 L376.63 133.5 L384.67 132.5 L392.7 131.6 L400.74 131.4 L408.77 131.6 L416.81 131.9 L424.85 132.5 L432.88 132.9 L440.92 132.9 L448.95 132.9 L456.99 132.9 L465.03 133.1 L473.06 132.5 L481.1 130.6 L489.13 129.7 L497.17 128.2 L505.21 127.5 L513.24 127 L521.28 125.8 L529.31 125.1 L537.35 124.5 L545.39 123.9 L553.42 124 L561.46 123.3 L569.49 122.3 L577.53 121.3 L585.57 120.3 L593.6 119.6 L601.64 119.2 L609.67 119.1 L617.71 119.1 L625.75 119 L633.78 118.7 L641.82 118.3 L649.85 117.7 L657.89 117.1 L665.93 116 L673.96 115.4 L682 115 L690.03 114.5 L698.07 114.1 L706.11 113.7 L714.14 113.1 L722.18 113 L730.21 112.9 L738.25 112.9 L746.29 112.9 L754.32 112.9 L762.36 113.8 L770.39 113.8 L778.43 113.4 L786.47 113.3 L794.5 112.9 L802.54 112.5 L810.57 111.6 L818.61 110.6 L826.65 110 L834.68 109.5" fill="none" stroke="#bb40de" stroke-width="2" stroke-linejoin="round"/>
<path d="M304.31 360.9 L312.34 361 L320.38 368.8 L328.41 373.1 L336.45 378.1 L344.49 386.2 L352.52 388.7 L360.56 386.4 L368.59 382.6 L376.63 380.5 L384.67 376.6 L392.7 379.1 L400.74 382.3 L408.77 380.2 L416.81 377.4 L424.85 375.2 L432.88 367 L440.92 356.3 L448.95 347.5 L456.99 346.1 L465.03 347.5 L473.06 345 L481.1 340.7 L489.13 344.2 L497.17 346.4 L505.21 348.8 L513.24 354.2 L521.28 358.5 L529.31 355.3 L537.35 353.5 L545.39 353.2 L553.42 353 L561.46 350.9 L569.49 347.5 L577.53 348.8 L585.57 345.2 L593.6 343.8 L601.64 348.1 L609.67 350.3 L617.71 351.8 L625.75 350.6 L633.78 346.4 L641.82 345.7 L649.85 347.1 L657.89 346.7 L665.93 343.2 L673.96 344.2 L682 345.7 L690.03 349.2 L698.07 348.8 L706.11 346.8 L714.14 345 L722.18 347.1 L730.21 350.6 L738.25 355.5 L746.29 355.6 L754.32 362 L762.36 367.4 L770.39 367 L778.43 364.1 L786.47 361.3 L794.5 354.9 L802.54 349.2 L810.57 348.9 L818.61 346.4 L826.65 343.8 L834.68 341.8" fill="none" stroke="#4a7db3" stroke-width="1.6" stroke-linejoin="round"/>
<path d="M304.31 405.4 L312.34 397.5 L320.38 391.9 L328.41 388.3 L336.45 385.9 L344.49 385.7 L352.52 386.4 L360.56 386.9 L368.59 385.9 L376.63 384.7 L384.67 383.3 L392.7 382.3 L400.74 382.2 L408.77 381.6 L416.81 380.8 L424.85 379.8 L432.88 376.9 L440.92 372.7 L448.95 368 L456.99 363.4 L465.03 360.3 L473.06 357 L481.1 353.9 L489.13 351.8 L497.17 350.6 L505.21 350.1 L513.24 350.9 L521.28 352.1 L529.31 353 L537.35 353.2 L545.39 353.2 L553.42 352.8 L561.46 352.3 L569.49 351.3 L577.53 350.6 L585.57 349.6 L593.6 348.8 L601.64 348.8 L609.67 348.9 L617.71 349.5 L625.75 349.6 L633.78 348.8 L641.82 348.1 L649.85 347.5 L657.89 347.1 L665.93 346.4 L673.96 346.1 L682 346.1 L690.03 346.8 L698.07 347.4 L706.11 347.1 L714.14 346.7 L722.18 346.7 L730.21 347.5 L738.25 349 L746.29 350.9 L754.32 353.2 L762.36 356 L770.39 358 L778.43 359.2 L786.47 359.9 L794.5 359.4 L802.54 357.5 L810.57 355.3 L818.61 353.2 L826.65 351.3 L834.68 349.6" fill="none" stroke="#b23f5c" stroke-width="1.6" stroke-linejoin="round"/>
<path d="M39.12 452 H834.68 M39.12 516 H834.68" stroke="#8c8888" stroke-width="1.7" fill="none"/>
<path d="M199.84 516 L207.87 517.2 L215.91 514.9 L223.95 516.1 L231.98 506.1 L240.02 493.3 L248.05 486.6 L256.09 486.6 L264.13 486.9 L272.16 484.5 L280.2 477.4 L288.23 476.6 L296.27 482.5 L304.31 483.4 L312.34 488.8 L320.38 496.9 L328.41 493.7 L336.45 496.2 L344.49 501.1 L352.52 494.7 L360.56 490.2 L368.59 488.1 L376.63 487.9 L384.67 486.2 L392.7 492.3 L400.74 494.7 L408.77 487.4 L416.81 486.6 L424.85 487.2 L432.88 477 L440.92 473.1 L448.95 473.1 L456.99 479.8 L465.03 483.4 L473.06 478 L481.1 475.6 L489.13 484.8 L497.17 482.4 L505.21 483.4 L513.24 487.4 L521.28 489.3 L529.31 479.4 L537.35 480.5 L545.39 482.2 L553.42 481.2 L561.46 478 L569.49 475.6 L577.53 481.7 L585.57 475.1 L593.6 476.6 L601.64 484.5 L609.67 482.7 L617.71 482.2 L625.75 479.1 L633.78 473.1 L641.82 478 L649.85 479.8 L657.89 477.4 L665.93 473.4 L673.96 478.7 L682 479.1 L690.03 483.4 L698.07 477.4 L706.11 475.1 L714.14 474.4 L722.18 479.8 L730.21 482.7 L738.25 487.5 L746.29 478.8 L754.32 490.5 L762.36 489.1 L770.39 482.7 L778.43 479.8 L786.47 478.8 L794.5 473.1 L802.54 471.3 L810.57 478.4 L818.61 475.1 L826.65 474.4 L834.68 473.7" fill="none" stroke="#5fb3c6" stroke-width="1.6" stroke-linejoin="round"/>
<rect x="50" y="38.6" width="13.8" height="13.6" fill="#333"/>
<path d="M143.8 45.3 H176.7" stroke="#4a7db3" stroke-width="1.6"/>
<path d="M305.3 45.3 H338.2" stroke="#b23f5c" stroke-width="1.6"/>
<path d="M476.1 45.3 H509.1" stroke="#5fb3c6" stroke-width="1.6"/>
<path d="M621.3 45.3 H654.2" stroke="#548710" stroke-width="2.4"/>
<path d="M777.5 45.3 H810.4" stroke="#bb40de" stroke-width="2"/>
<text x="325.44" y="21" font-size="19.8" letter-spacing="-0.11" transform="scale(1.08,1)">First Quant Figure</text>
<text x="74.05" y="49.6" font-size="13.5" letter-spacing="0.11" transform="scale(1.08,1)">volume</text>
<text x="173.07" y="49.6" font-size="13.5" letter-spacing="0.42" transform="scale(1.08,1)">MACD([12,26])</text>
<text x="317.8" y="49.6" font-size="13.5" letter-spacing="-0.16" transform="scale(1.08,1)">MACD SIGNAL(9)</text>
<text x="476.04" y="49.6" font-size="13.5" letter-spacing="0.17" transform="scale(1.08,1)">RSI(close,20)</text>
<text x="614.78" y="49.6" font-size="13.5" letter-spacing="0.63" transform="scale(1.08,1)">SMA([10, 20])</text>
<g clip-path="url(#legclip)"><text x="755.39" y="49.6" font-size="13.5" letter-spacing="-0.97" transform="scale(1.08,1)">BOLL(close,20)</text></g>
<text x="7.31" y="91.9" font-size="13.6" letter-spacing="0.18" transform="scale(1.08,1)">150</text>
<text x="7.31" y="115.2" font-size="13.6" letter-spacing="0.18" transform="scale(1.08,1)">100</text>
<text x="14.78" y="138.8" font-size="13.6" letter-spacing="0.38" transform="scale(1.08,1)">50</text>
<text x="23.08" y="162.1" font-size="13.6" letter-spacing="-0.43" transform="scale(1.08,1)">0</text>
<text x="5.8" y="185.2" font-size="13.6" letter-spacing="0.68" transform="scale(1.08,1)">−50</text>
<text x="7.95" y="235.1" font-size="13.6" letter-spacing="0.18" transform="scale(1.08,1)">10k</text>
<text x="15.61" y="270" font-size="13.6" letter-spacing="0.44" transform="scale(1.08,1)">5k</text>
<text x="23.18" y="304.9" font-size="13.6" letter-spacing="-0.52" transform="scale(1.08,1)">0</text>
<text x="14.99" y="348.1" font-size="13.6" letter-spacing="0.17" transform="scale(1.08,1)">10</text>
<text x="22.99" y="374.1" font-size="13.6" letter-spacing="-0.33" transform="scale(1.08,1)">0</text>
<text x="5.8" y="400.1" font-size="13.6" letter-spacing="0.68" transform="scale(1.08,1)">−10</text>
<text x="14.69" y="458.9" font-size="13.6" letter-spacing="0.29" transform="scale(1.08,1)">70</text>
<text x="14.69" y="475.1" font-size="13.6" letter-spacing="0.29" transform="scale(1.08,1)">60</text>
<text x="14.69" y="491.1" font-size="13.6" letter-spacing="0.29" transform="scale(1.08,1)">50</text>
<text x="14.94" y="507.1" font-size="13.6" letter-spacing="0.04" transform="scale(1.08,1)">40</text>
<text x="14.94" y="522.9" font-size="13.6" letter-spacing="0.04" transform="scale(1.08,1)">30</text>
<text x="90" y="201.5" font-size="13.6" letter-spacing="0.08" transform="scale(1.08,1)">Jan 11</text>
<text x="194.35" y="201.5" font-size="13.6" letter-spacing="-0.08" transform="scale(1.08,1)">Jan 25</text>
<text x="301.31" y="201.5" font-size="13.6" letter-spacing="0.07" transform="scale(1.08,1)">Feb 8</text>
<text x="401.78" y="201.5" font-size="13.6" letter-spacing="-0.06" transform="scale(1.08,1)">Feb 22</text>
<text x="509.65" y="201.5" font-size="13.6" letter-spacing="0.04" transform="scale(1.08,1)">Mar 8</text>
<text x="609.46" y="201.5" font-size="13.6" letter-spacing="0.18" transform="scale(1.08,1)">Mar 22</text>
<text x="719.07" y="201.5" font-size="13.6" letter-spacing="0.22" transform="scale(1.08,1)">Apr 5</text>
<text x="95.15" y="219.5" font-size="13.6" letter-spacing="0.19" transform="scale(1.08,1)">2015</text>
</svg>
</body></html>
